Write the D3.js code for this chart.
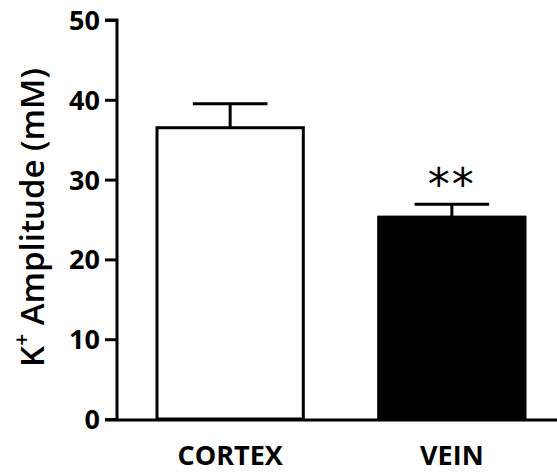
<!DOCTYPE html>
<html>
<head>
<meta charset="utf-8">
<script src="https://cdn.jsdelivr.net/npm/d3@7"></script>
<style>
  body{margin:0;background:#fff;}
  svg{display:block;}
  .tick text{font-family:"Open Sans","Liberation Sans",Arial,sans-serif;font-weight:bold;}
</style>
</head>
<body>
<svg id="chart" width="557" height="472"></svg>
<script>
// values
var groups = ['CORTEX','VEIN'];
var means = [36.5, 25.3];
var sems = [3.0, 1.6];
var fills = ['#fff','#000'];
var marks = ['', '**'];
var yTicks = [0,10,20,30,40,50];

var svg = d3.select('#chart');
var mLeft = 117, mTop = 20, mBottom = 419, mRight = 557;

var y = d3.scaleLinear().domain([0,50]).range([mBottom, mTop]);
var x = d3.scaleBand().domain(groups).range([mLeft + 40, mRight - 32]).paddingInner(0.34).paddingOuter(0);

// bars
var g = svg.append('g');
g.selectAll('rect.bar').data(groups).enter().append('rect')
  .attr('class','bar')
  .attr('x', function(d){ return x(d); })
  .attr('width', x.bandwidth())
  .attr('y', function(d,i){ return y(means[i]); })
  .attr('height', function(d,i){ return mBottom - y(means[i]); })
  .attr('fill', function(d,i){ return fills[i]; })
  .attr('stroke','#000').attr('stroke-width',3);

// error bars (upper only)
var capW = x.bandwidth()*0.51;
groups.forEach(function(d,i){
  var cx = x(d) + x.bandwidth()/2;
  g.append('line').attr('x1',cx).attr('x2',cx)
    .attr('y1',y(means[i])).attr('y2',y(means[i]+sems[i]))
    .attr('stroke','#000').attr('stroke-width',3);
  g.append('line').attr('x1',cx-capW/2).attr('x2',cx+capW/2)
    .attr('y1',y(means[i]+sems[i])).attr('y2',y(means[i]+sems[i]))
    .attr('stroke','#000').attr('stroke-width',3);
  if(marks[i]){
    g.append('text').attr('x',cx).attr('y',y(means[i]+sems[i]) + 4 - 8)
      .attr('text-anchor','middle')
      .attr('font-family','"DejaVu Sans",sans-serif')
      .attr('font-size',44).attr('letter-spacing',2)
      .text(marks[i]);
  }
});

// y axis
var yAxis = d3.axisLeft(y).tickValues(yTicks).tickSize(12).tickPadding(5);
var gy = svg.append('g').attr('transform','translate('+mLeft+',0)').call(yAxis);
gy.selectAll('.tick text').attr('font-size',27).attr('dy','0.35em').attr('fill','#000');
gy.selectAll('line,path').attr('stroke','#000').attr('stroke-width',3);
gy.select('.domain').attr('d','M-12,'+mTop+'H0V'+mBottom);

// x axis
svg.append('line').attr('x1',mLeft-12).attr('x2',mRight)
  .attr('y1',mBottom+1).attr('y2',mBottom+1)
  .attr('stroke','#000').attr('stroke-width',3);
svg.selectAll('text.xl').data(groups).enter().append('text')
  .attr('class','xl')
  .attr('x',function(d){ return x(d)+x.bandwidth()/2; })
  .attr('y',465)
  .attr('text-anchor','middle')
  .attr('font-family','"Open Sans","Liberation Sans",Arial,sans-serif')
  .attr('font-weight','bold').attr('font-size',27)
  .text(function(d){ return d; });

// y title
var t = svg.append('text')
  .attr('transform','translate(44,'+((65+370)/2)+') rotate(-90)')
  .attr('text-anchor','middle')
  .attr('font-family','"Open Sans","Liberation Sans",Arial,sans-serif')
  .attr('font-weight',600)
  .attr('font-size',33);
t.append('tspan').text('K');
t.append('tspan').attr('font-size',21).attr('dy','-0.7em').text('+');
t.append('tspan').attr('dy','0.45em').text(' Amplitude (mM)');
</script>
</body>
</html>
